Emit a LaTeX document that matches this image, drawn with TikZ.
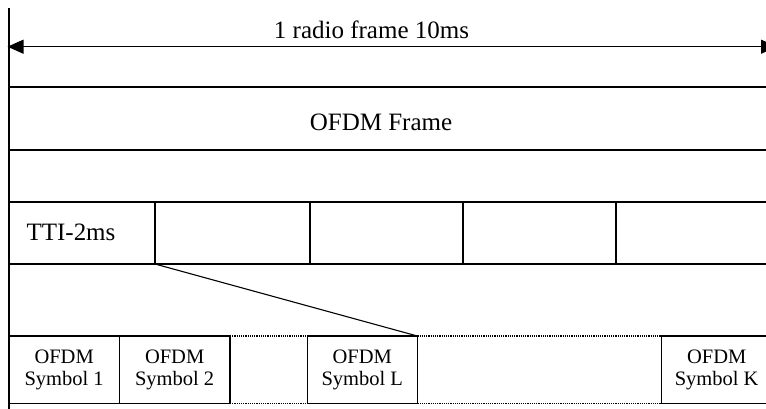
\documentclass[tikz,border=0pt]{standalone}
\usepackage{fontspec}
\setmainfont{Liberation Serif}
\usetikzlibrary{arrows.meta}
\begin{document}
\begin{tikzpicture}[x=1pt,y=-1pt,
  line width=1.1pt,
  txt/.style={inner sep=0pt, font=\fontsize{25}{30}\selectfont},
  cell/.style={draw, line width=1.1pt, minimum height=62pt, inner sep=0pt, outer sep=0pt, anchor=north west},
  symbox/.style={draw, line width=1.1pt, minimum height=67.5pt, inner sep=0pt, outer sep=0pt, anchor=north west, align=center, font=\fontsize{20.5}{21.7}\selectfont},
  dotline/.style={line width=1.1pt, dash pattern=on 1.2pt off 1pt},
  span/.style={{Triangle[length=16pt,width=14pt]}-{Triangle[length=16pt,width=14pt]}, line width=1.1pt}
]
\useasboundingbox (0,0) rectangle (766,408);
\clip (0,0) rectangle (766,408);

% frame rows
\draw (9,8) -- (9,410);
\draw (9,87) -- (780,87);
\draw (9,150) -- (780,150);

% span arrow
\coordinate (aL) at (7.5,46.7);
\coordinate (aR) at (777,46.7);
\draw[span] (aL) -- (aR);
\node[txt, anchor=base] (title) at (371.5,38) {1 radio frame 10ms};

\node[txt, anchor=base] (frame) at (381,130) {OFDM Frame};

% TTI row
\node[cell, minimum width=146pt] (t1) at (9,202) {};
\node[cell, minimum width=155pt] (t2) at (155,202) {};
\node[cell, minimum width=153pt] (t3) at (310,202) {};
\node[cell, minimum width=153pt] (t4) at (463,202) {};
\node[cell, minimum width=170pt] (t5) at (616,202) {};
\node[txt, anchor=base west] (tti) at (26,240) {TTI-2ms};

% OFDM symbols
\node[symbox, minimum width=110.3pt] (s1) at (9,336) {OFDM\\Symbol 1};
\node[symbox, minimum width=110.7pt] (s2) at (119.3,336) {OFDM\\Symbol 2};
\node[symbox, minimum width=110pt] (sL) at (307.3,336) {OFDM\\Symbol L};
\node[symbox, minimum width=110pt] (sK) at (661.7,336) {OFDM\\Symbol K};

\draw[dotline] (s2.north east) -- (sL.north west);
\draw[dotline] (s2.south east) -- (sL.south west);
\draw[dotline] (sL.north east) -- (sK.north west);
\draw[dotline] (sL.south east) -- (sK.south west);

% zoom connector
\draw (t2.south west) -- (sL.north east);
\end{tikzpicture}
\end{document}
